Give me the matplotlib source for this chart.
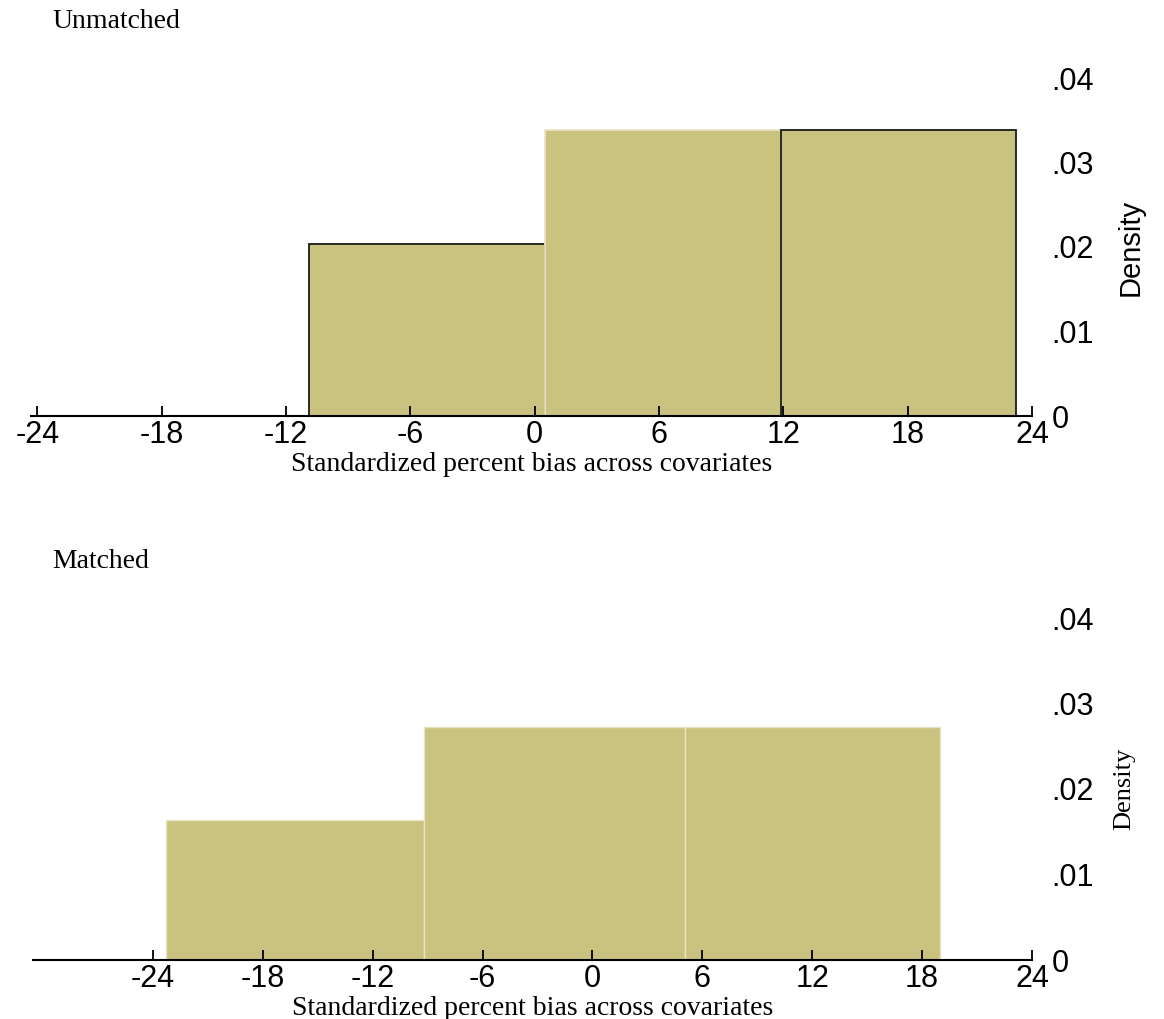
import matplotlib
matplotlib.use("Agg")
import matplotlib.pyplot as plt

# bin edges and densities
unmatched_edges = [-10.9, 0.48, 11.87, 23.25]
unmatched_density = [0.0203, 0.0338, 0.0338]
unmatched_edgecolors = ["#1a1a1a", "#e8e4c4", "#1a1a1a"]

matched_edges = [-23.3, -9.2, 5.05, 19.0]
matched_density = [0.0164, 0.0273, 0.0273]

xticks = [-24, -18, -12, -6, 0, 6, 12, 18, 24]
yticks = [0, 0.01, 0.02, 0.03, 0.04]
ytick_labels = ["0", ".01", ".02", ".03", ".04"]

bar_color = "#cac27f"
sans = "Liberation Sans"
serif = "Liberation Serif"

fig = plt.figure(figsize=(11.64, 10.19), dpi=100)


def style_axes(ax, xlim, density_font, density_size, density_pad):
    ax.set_xlim(*xlim)
    ax.set_ylim(0, 0.04)
    for side in ["top", "left", "right"]:
        ax.spines[side].set_visible(False)
    ax.spines["bottom"].set_linewidth(1.5)
    ax.set_xticks(xticks)
    ax.set_xticklabels([str(t) for t in xticks], fontfamily=sans, fontsize=22)
    ax.tick_params(axis="x", direction="in", length=7, width=1.3, pad=3)
    ax.yaxis.tick_right()
    ax.set_yticks(yticks)
    ax.set_yticklabels(ytick_labels, fontfamily=sans, fontsize=22)
    ax.tick_params(axis="y", length=0, pad=14)
    for lbl in ax.get_yticklabels():
        lbl.set_horizontalalignment("left")
    ax.yaxis.set_label_position("right")
    ax.set_ylabel("Density", fontfamily=density_font, fontsize=density_size,
                  labelpad=density_pad)
    ax.set_xlabel("Standardized percent bias across covariates",
                  fontfamily=serif, fontsize=20, labelpad=1)


# top panel
ax1 = fig.add_axes([31 / 1164, 1 - 416 / 1019, 1001 / 1164, 338 / 1019])
widths = [unmatched_edges[i + 1] - unmatched_edges[i] for i in range(3)]
ax1.bar(unmatched_edges[:-1], unmatched_density, width=widths, align="edge",
        color=bar_color, edgecolor=unmatched_edgecolors, linewidth=1.3)
style_axes(ax1, (-24.3, 24), sans, 21, 16)
fig.text(52 / 1164, 1 - 21 / 1019, "Unmatched", fontfamily=serif, fontsize=20,
         va="center", ha="left")

# bottom panel
ax2 = fig.add_axes([33 / 1164, 1 - 960 / 1019, 999 / 1164, 342 / 1019])
widths = [matched_edges[i + 1] - matched_edges[i] for i in range(3)]
ax2.bar(matched_edges[:-1], matched_density, width=widths, align="edge",
        color=bar_color, edgecolor="#e8e4c4", linewidth=1.0)
style_axes(ax2, (-30.55, 24), serif, 19, 14)
fig.text(52 / 1164, 1 - 561 / 1019, "Matched", fontfamily=serif, fontsize=20,
         va="center", ha="left")

plt.savefig("out.png", dpi=100)
